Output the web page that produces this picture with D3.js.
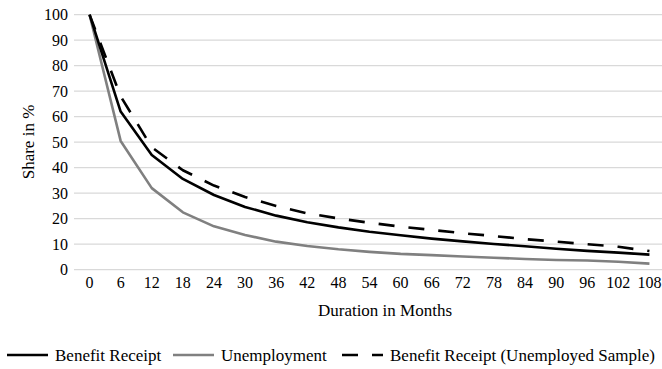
<!DOCTYPE html>
<html><head><meta charset="utf-8">
<script src="https://cdn.jsdelivr.net/npm/d3@7"></script>
<style>body{margin:0;background:#fff}svg{display:block}</style>
</head><body><svg id="c" width="662" height="369"></svg>
<script>
const months = [0,6,12,18,24,30,36,42,48,54,60,66,72,78,84,90,96,102,108];
const benefitReceipt = [100,62,45,35.6,29.3,24.6,21.2,18.6,16.6,14.9,13.5,12.2,11.1,10.1,9.2,8.2,7.4,6.7,5.9];
const unemployment = [100,50.5,32,22.5,17,13.6,11,9.3,8,7,6.2,5.7,5.2,4.7,4.2,3.8,3.6,3.1,2.4];
const benefitUnemployedSample = [100,68,48,39,33,28.5,25,22.1,20.1,18.4,16.9,15.6,14.3,13.2,12,11,10,9,7.3];
const yTicks = [0,10,20,30,40,50,60,70,80,90,100];
const seriesNames = ["Benefit Receipt","Unemployment","Benefit Receipt (Unemployed Sample)"];

const FONT = '"Liberation Serif"';
const svg = d3.select("#c");
const x = d3.scaleBand().domain(months).range([74, 665]);
const y = d3.scaleLinear().domain([0,100]).range([269.7, 14.7]);

// gridlines
svg.append("g").selectAll("line").data(yTicks).join("line")
  .attr("x1", 74).attr("x2", 665)
  .attr("y1", d => y(d)).attr("y2", d => y(d))
  .attr("stroke", "#d9d9d9").attr("stroke-width", 1.3);

// y axis labels
const yAxis = svg.append("g").attr("transform","translate(70,0)")
  .call(d3.axisLeft(y).tickValues(yTicks).tickSize(0).tickPadding(2));
yAxis.select(".domain").remove();
yAxis.selectAll("text").style("font-size","16px").style("font-family",FONT).attr("fill","#000");

// x axis labels
const xAxis = svg.append("g").attr("transform","translate(0,277)")
  .call(d3.axisBottom(x).tickSize(0).tickPadding(0));
xAxis.select(".domain").remove();
xAxis.selectAll("text").style("font-size","16px").style("font-family",FONT).attr("fill","#000");

const cx = m => x(m) + x.bandwidth()/2;
const line = d3.line().x((d,i) => cx(months[i])).y(d => y(d));

const styles = [
  {data: benefitReceipt, color:"#000000", dash:null},
  {data: unemployment, color:"#808080", dash:null},
  {data: benefitUnemployedSample, color:"#000000", dash:"16,14"}
];
[2,1,0].forEach(k => {
  const s = styles[k];
  svg.append("path").datum(s.data).attr("d", line)
    .attr("fill","none").attr("stroke", s.color).attr("stroke-width", 2.6)
    .attr("stroke-dasharray", s.dash).attr("stroke-linejoin","round");
});

// axis titles
svg.append("text").attr("x", 385).attr("y", 316).attr("text-anchor","middle")
  .style("font-size","17px").style("font-family",FONT).text("Duration in Months");
svg.append("text").attr("transform","translate(34,142) rotate(-90)").attr("text-anchor","middle")
  .style("font-size","17px").style("font-family",FONT).text("Share in %");

// legend
const legendX = [7, 173, 342];
const lg = svg.append("g");
seriesNames.forEach((n,i) => {
  const s = styles[i];
  lg.append("line").attr("x1", legendX[i]).attr("x2", legendX[i]+41)
    .attr("y1", 355).attr("y2", 355).attr("stroke", s.color).attr("stroke-width", 2.6)
    .attr("stroke-dasharray", s.dash);
  lg.append("text").attr("x", legendX[i]+48).attr("y", 361)
    .style("font-size","17px").style("font-family",FONT).text(n);
});
</script></body></html>
